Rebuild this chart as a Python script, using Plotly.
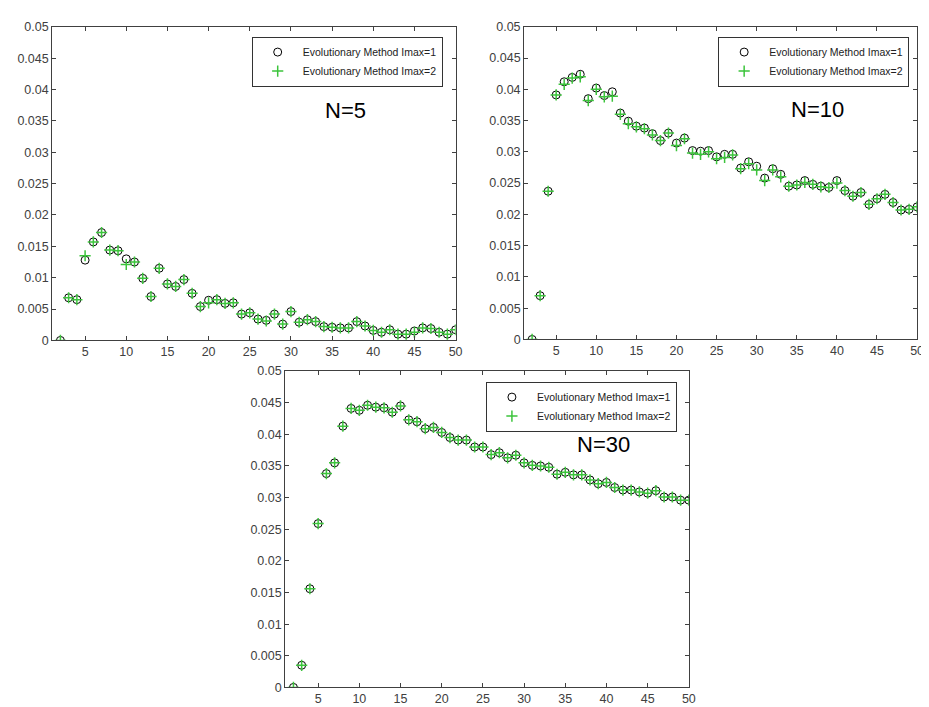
import plotly.graph_objects as go

x_vals = list(range(2, 51))

n5_imax1 = [0, 0.0068, 0.0065, 0.0128, 0.0157, 0.0172, 0.0144, 0.0143, 0.0130, 0.0125,
            0.0099, 0.0070, 0.0115, 0.0090, 0.0086, 0.0097, 0.0075, 0.0054, 0.0064, 0.0065,
            0.0059, 0.0060, 0.0042, 0.0044, 0.0034, 0.0032, 0.0042, 0.0026, 0.0046, 0.0029,
            0.0033, 0.0030, 0.0022, 0.0021, 0.0020, 0.0020, 0.0030, 0.0023, 0.0016, 0.0013,
            0.0017, 0.0010, 0.0010, 0.0015, 0.0020, 0.0019, 0.0013, 0.0010, 0.0017]
n5_imax2 = [0, 0.0068, 0.0065, 0.0135, 0.0157, 0.0172, 0.0144, 0.0143, 0.0121, 0.0125,
            0.0099, 0.0070, 0.0115, 0.0090, 0.0086, 0.0097, 0.0075, 0.0054, 0.0060, 0.0065,
            0.0059, 0.0060, 0.0042, 0.0044, 0.0034, 0.0031, 0.0042, 0.0026, 0.0046, 0.0029,
            0.0033, 0.0030, 0.0022, 0.0021, 0.0020, 0.0020, 0.0030, 0.0023, 0.0016, 0.0013,
            0.0017, 0.0010, 0.0010, 0.0013, 0.0020, 0.0019, 0.0013, 0.0010, 0.0017]

n10_imax1 = [0, 0.0070, 0.0237, 0.0391, 0.0412, 0.0419, 0.0424, 0.0385, 0.0402, 0.0390,
             0.0396, 0.0362, 0.0349, 0.0341, 0.0338, 0.0329, 0.0318, 0.0330, 0.0314, 0.0322,
             0.0302, 0.0301, 0.0302, 0.0292, 0.0296, 0.0296, 0.0274, 0.0284, 0.0277, 0.0258,
             0.0273, 0.0264, 0.0245, 0.0247, 0.0254, 0.0248, 0.0245, 0.0243, 0.0254, 0.0238,
             0.0229, 0.0235, 0.0216, 0.0225, 0.0232, 0.0219, 0.0207, 0.0208, 0.0212]
n10_imax2 = [0, 0.0070, 0.0237, 0.0391, 0.0408, 0.0418, 0.0420, 0.0382, 0.0400, 0.0388,
             0.0389, 0.0360, 0.0345, 0.0340, 0.0337, 0.0327, 0.0318, 0.0330, 0.0310, 0.0321,
             0.0298, 0.0296, 0.0300, 0.0289, 0.0291, 0.0295, 0.0273, 0.0281, 0.0271, 0.0254,
             0.0271, 0.0260, 0.0245, 0.0247, 0.0251, 0.0248, 0.0244, 0.0243, 0.0250, 0.0238,
             0.0229, 0.0235, 0.0216, 0.0225, 0.0232, 0.0219, 0.0207, 0.0208, 0.0212]

n30_imax1 = [0, 0.0035, 0.0156, 0.0259, 0.0338, 0.0355, 0.0413, 0.0441, 0.0438, 0.0446,
             0.0443, 0.0442, 0.0435, 0.0445, 0.0423, 0.0420, 0.0409, 0.0411, 0.0403, 0.0395,
             0.0391, 0.0391, 0.0380, 0.0380, 0.0368, 0.0371, 0.0363, 0.0367, 0.0355, 0.0351,
             0.0350, 0.0348, 0.0337, 0.0340, 0.0336, 0.0336, 0.0328, 0.0322, 0.0324, 0.0316,
             0.0312, 0.0312, 0.0309, 0.0307, 0.0311, 0.0301, 0.0301, 0.0296, 0.0296]
n30_imax2 = list(n30_imax1)

y_ticks = [0, 0.005, 0.01, 0.015, 0.02, 0.025, 0.03, 0.035, 0.04, 0.045, 0.05]
y_tick_labels = ["0", "0.005", "0.01", "0.015", "0.02", "0.025", "0.03", "0.035", "0.04", "0.045", "0.05"]
x_ticks = [5, 10, 15, 20, 25, 30, 35, 40, 45, 50]

panels = [
    ("N=5", n5_imax1, n5_imax2),
    ("N=10", n10_imax1, n10_imax2),
    ("N=30", n30_imax1, n30_imax2),
]

W, H = 929, 707
def px(x):
    return x / W
def py(y):
    return 1 - y / H

# axes boxes in pixels: (left, right, top, bottom)
boxes = [(44.5, 451, 12, 332), (520, 916, 12, 331), (279.3, 686, 363.3, 686)]
legend_pos = [(438, 22), (908, 22), (674, 374)]
label_pos = [(340, 97), (816, 96), (600, 438)]

fig = go.Figure()
axis_color = "#404040"
green = "#3cc43c"

for i, (label, s1, s2) in enumerate(panels):
    suffix = "" if i == 0 else str(i + 1)
    leg = "legend" if i == 0 else "legend" + str(i + 1)
    fig.add_trace(go.Scatter(
        x=x_vals, y=s1, mode="markers", name="Evolutionary Method Imax=1",
        xaxis="x" + suffix, yaxis="y" + suffix, legend=leg,
        marker=dict(symbol="circle-open", size=8, color="black", line=dict(width=1, color="black")),
    ))
    fig.add_trace(go.Scatter(
        x=x_vals, y=s2, mode="markers", name="Evolutionary Method Imax=2",
        xaxis="x" + suffix, yaxis="y" + suffix, legend=leg,
        marker=dict(symbol="cross-thin-open", size=8, color=green, line=dict(width=1.5, color=green)),
    ))
    l, r, t, b = boxes[i]
    axcommon = dict(showline=True, linecolor=axis_color, linewidth=1, mirror="ticks",
                    ticks="inside", ticklen=4, tickcolor=axis_color, showgrid=False, zeroline=False,
                    tickfont=dict(family="Liberation Sans, Arial", size=12.5, color="#404040"))
    fig.update_layout(**{
        "xaxis" + suffix: dict(domain=[px(l), px(r)], range=[1, 50], tickvals=x_ticks,
                               anchor="y" + suffix, **axcommon),
        "yaxis" + suffix: dict(domain=[py(b), py(t)], range=[0, 0.05], tickvals=y_ticks,
                               ticktext=y_tick_labels, anchor="x" + suffix, **axcommon),
        leg: dict(x=px(legend_pos[i][0]), y=py(legend_pos[i][1]), xanchor="right", yanchor="top",
                  bordercolor="#333333", borderwidth=1, bgcolor="white", itemwidth=40,
                  tracegroupgap=0, font=dict(family="Liberation Sans, Arial", size=10.5, color="#222222")),
    })
    fig.add_annotation(x=px(label_pos[i][0]), y=py(label_pos[i][1]), xref="paper", yref="paper",
                       text=label, showarrow=False, xanchor="center", yanchor="middle",
                       font=dict(family="Liberation Sans, Arial", size=22, color="black"))

fig.update_layout(width=W, height=H, margin=dict(l=0, r=0, t=0, b=0),
                  paper_bgcolor="white", plot_bgcolor="white", showlegend=True)

fig.write_html("out.html")
